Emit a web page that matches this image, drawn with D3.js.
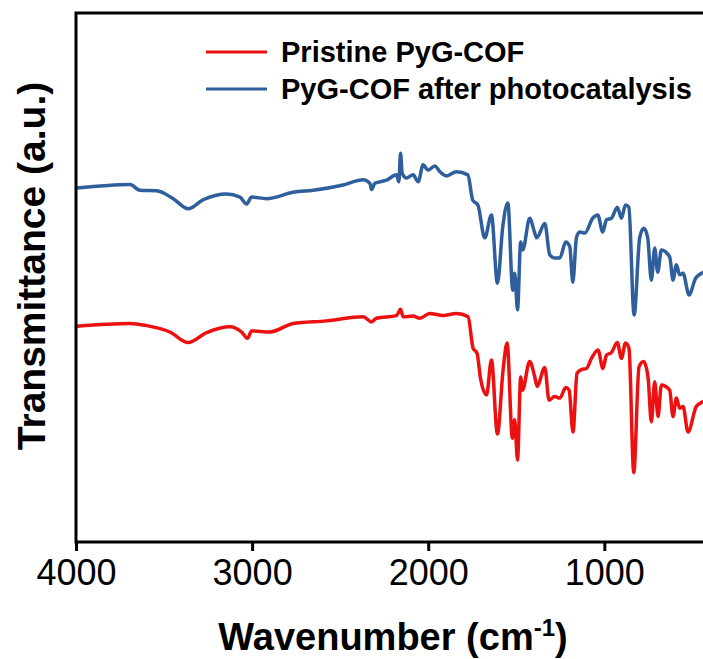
<!DOCTYPE html>
<html lang="en">
<head>
    <meta charset="UTF-8">
    <title>FTIR PyG-COF</title>
    <script src="https://d3js.org/d3.v7.min.js"></script>
    <style>
        body { margin: 0; background: #fff; }
        text { font-family: "Liberation Sans", Arial, sans-serif; fill: #000; }
    </style>
</head>
<body>
    <svg id="chart" width="703" height="659"></svg>
    <script>
        // wavenumber (cm-1) and transmittance (a.u., offset for stacking)
        const redWn = [3996, 3694, 3599, 3467, 3363, 3258, 3126, 3060, 3026, 3003, 2899, 2767, 2577, 2370, 2322, 2294, 2180, 2157, 2143, 2086, 2048, 1991, 1916, 1840, 1774, 1745, 1723, 1703, 1669, 1641, 1607, 1575, 1552, 1522, 1509, 1493, 1475, 1465, 1424, 1395, 1382, 1338, 1314, 1282, 1253, 1219, 1200, 1178, 1155, 1130, 1102, 1073, 1036, 1008, 988, 960, 926, 903, 880, 860, 833, 803, 777, 752, 733, 714, 695, 676, 629, 610, 591, 572, 553, 525, 478, 442, 400];
        const redT = [40.8, 41.3, 40.9, 39.7, 37.7, 39.6, 40.7, 39.7, 38.5, 39.9, 39.7, 41.3, 41.8, 42.6, 41.6, 42.3, 42.8, 44.0, 42.6, 42.7, 42.3, 43.2, 42.8, 43.2, 42.6, 36.6, 35.7, 30.9, 27.8, 34.4, 20.4, 32.5, 37.6, 19.6, 23.1, 15.5, 31.2, 28.7, 34.1, 31.2, 29.4, 33.0, 26.8, 27.5, 27.2, 29.2, 28.7, 20.8, 31.9, 32.6, 32.8, 34.7, 36.3, 32.8, 35.3, 35.8, 37.7, 34.7, 37.6, 36.6, 13.1, 33.1, 34.1, 31.2, 22.7, 30.3, 23.7, 29.7, 28.7, 23.7, 27.2, 25.3, 25.6, 20.8, 25.6, 26.5, 27.0];

        const blueWn = [3996, 3694, 3637, 3542, 3448, 3363, 3278, 3145, 3069, 3031, 3003, 2918, 2767, 2653, 2483, 2369, 2331, 2322, 2303, 2237, 2180, 2167, 2157, 2148, 2123, 2086, 2057, 2029, 2001, 1963, 1934, 1896, 1840, 1775, 1747, 1718, 1679, 1641, 1607, 1577, 1548, 1520, 1509, 1493, 1475, 1463, 1424, 1395, 1384, 1338, 1310, 1282, 1253, 1219, 1196, 1179, 1158, 1140, 1111, 1066, 1037, 1009, 988, 960, 926, 903, 880, 861, 831, 799, 776, 754, 733, 714, 697, 676, 629, 610, 591, 572, 553, 519, 481, 441, 400];
        const blueT = [66.9, 67.6, 66.5, 66.4, 64.9, 63.0, 64.7, 65.8, 65.2, 63.9, 65.2, 64.9, 66.1, 66.5, 67.5, 68.5, 67.8, 66.6, 67.8, 68.4, 69.4, 68.1, 73.5, 69.7, 68.8, 69.4, 68.1, 71.3, 70.3, 71.1, 70.0, 69.2, 70.0, 69.4, 64.6, 63.7, 57.5, 61.8, 48.9, 59.5, 64.1, 47.6, 50.8, 43.9, 56.7, 55.2, 61.2, 58.4, 57.5, 60.2, 54.3, 53.7, 53.7, 56.7, 55.8, 49.1, 57.6, 58.6, 58.4, 61.2, 61.8, 58.6, 60.9, 61.2, 63.3, 61.2, 63.7, 63.3, 42.9, 57.6, 59.3, 57.6, 49.5, 55.6, 51.0, 55.2, 53.9, 49.5, 52.4, 50.5, 50.8, 46.7, 49.9, 50.9, 51.5];

        const xTicks = [4000, 3000, 2000, 1000];
        const seriesNames = ["Pristine PyG-COF", "PyG-COF after photocatalysis"];
        const seriesColors = ["#ec1010", "#2f5e9c"];

        const svg = d3.select("#chart");
        const margin = {top: 13, left: 76, bottom: 117};
        const plotW = 634;   // 4000 -> 400 (right border falls just outside the picture)
        const plotH = 659 - margin.top - margin.bottom;

        const x = d3.scaleLinear().domain([4000, 400]).range([0, plotW]);
        const y = d3.scaleLinear().domain([0, 100]).range([plotH, 0]);

        const g = svg.append("g")
            .attr("transform", `translate(${margin.left},${margin.top})`);

        const series = [
            {name: seriesNames[0], color: seriesColors[0], pts: redWn.map((w, i) => [w, redT[i]])},
            {name: seriesNames[1], color: seriesColors[1], pts: blueWn.map((w, i) => [w, blueT[i]])}
        ];

        const line = d3.line()
            .x(d => x(d[0]))
            .y(d => y(d[1]))
            .curve(d3.curveMonotoneX);

        g.selectAll("path.spec")
            .data(series)
            .enter()
            .append("path")
            .attr("class", "spec")
            .attr("d", d => line(d.pts))
            .attr("fill", "none")
            .attr("stroke", d => d.color)
            .attr("stroke-width", 3.5)
            .attr("stroke-linejoin", "round");

        // frame
        g.append("rect")
            .attr("x", 0).attr("y", 0)
            .attr("width", plotW).attr("height", plotH)
            .attr("fill", "none")
            .attr("stroke", "#000")
            .attr("stroke-width", 3);

        const xAxis = g.append("g")
            .attr("transform", `translate(0,${plotH})`)
            .call(d3.axisBottom(x).tickValues(xTicks).tickSize(9).tickPadding(8).tickFormat(d3.format("d")));
        xAxis.select(".domain").remove();
        xAxis.selectAll("line").attr("stroke", "#000").attr("stroke-width", 3);
        xAxis.selectAll("text")
            .attr("font-size", 36)
            .style("font-family", "'Liberation Sans', Arial, sans-serif");

        // axis titles
        const xt = svg.append("text")
            .attr("x", margin.left + x(2200))
            .attr("y", 650)
            .attr("text-anchor", "middle")
            .attr("font-size", 38)
            .attr("font-weight", "bold")
            .text("Wavenumber (cm");
        xt.append("tspan").attr("dy", -14).attr("font-size", 24).text("-1");
        xt.append("tspan").attr("dy", 14).text(")");

        svg.append("text")
            .attr("transform", "translate(45,266) rotate(-90)")
            .attr("text-anchor", "middle")
            .attr("font-size", 39)
            .attr("font-weight", "bold")
            .text("Transmittance (a.u.)");

        // legend
        const legend = svg.append("g");
        series.forEach((s, i) => {
            const ly = 52 + i * 37;
            legend.append("line")
                .attr("x1", 206).attr("x2", 267)
                .attr("y1", ly).attr("y2", ly)
                .attr("stroke", s.color)
                .attr("stroke-width", 3.2);
            legend.append("text")
                .attr("x", 281)
                .attr("y", ly + 10)
                .attr("font-size", 29)
                .attr("font-weight", "bold")
                .text(s.name);
        });
    </script>
</body>
</html>
